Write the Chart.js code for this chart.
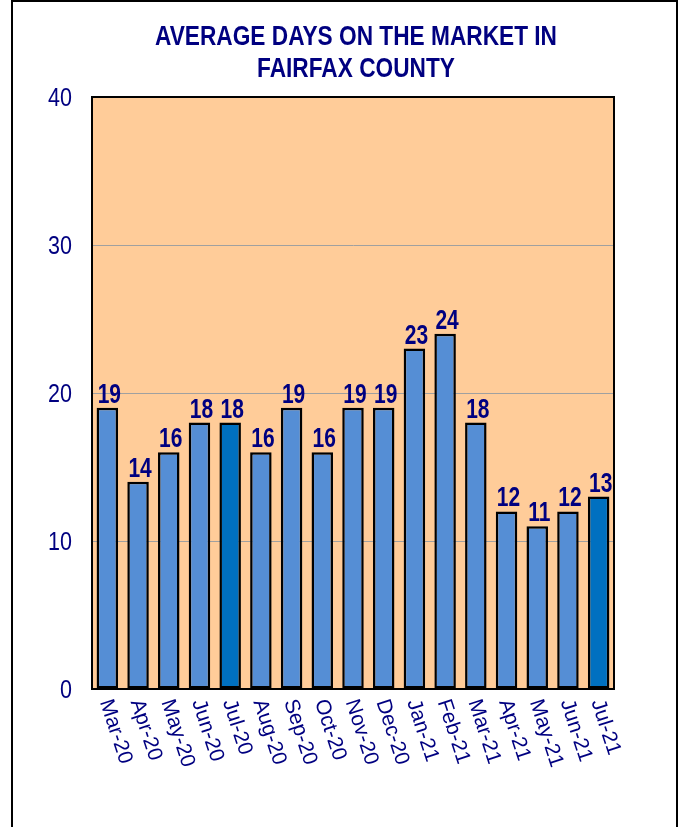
<!DOCTYPE html>
<html>
<head>
<meta charset="utf-8">
<script src="https://cdn.jsdelivr.net/npm/chart.js@4"></script>
<style>
  html, body { margin: 0; padding: 0; background: #fff; overflow: hidden; }
  #frame { position: absolute; left: 11px; top: 0px; width: 663px; height: 900px;
           border: 2px solid #000; border-bottom: none; box-sizing: content-box; }
  #c { position: absolute; left: 0; top: 0; }
</style>
</head>
<body>
<div id="frame"></div>
<canvas id="c" width="680" height="827"></canvas>
<script>
const categories = ["Mar-20","Apr-20","May-20","Jun-20","Jul-20","Aug-20","Sep-20","Oct-20","Nov-20","Dec-20","Jan-21","Feb-21","Mar-21","Apr-21","May-21","Jun-21","Jul-21"];
const daysOnMarket = [19,14,16,18,18,16,19,16,19,19,23,24,18,12,11,12,13];
const highlighted = ["Jul-20","Jul-21"];
const yTicks = [0,10,20,30,40];
const titleLines = ["AVERAGE DAYS ON THE MARKET IN","FAIRFAX COUNTY"];

const NAVY = "#000080";
const FONT = "'Liberation Sans', Arial, sans-serif";

const barColors = categories.map(c => highlighted.includes(c) ? "#0070C0" : "#558ED5");

// draw text horizontally condensed (the original uses a narrow typeface)
function narrowText(ctx, text, x, y, sx, align, baseline) {
  ctx.save();
  ctx.translate(x, y);
  ctx.scale(sx, 1);
  ctx.textAlign = align;
  ctx.textBaseline = baseline;
  ctx.fillText(text, 0, 0);
  ctx.restore();
}

const framePlugin = {
  id: "framePlugin",
  beforeDraw(chart) {
    const {ctx, chartArea: a} = chart;
    ctx.save();
    ctx.fillStyle = "#FFCC99";
    ctx.fillRect(a.left, a.top, a.right - a.left, a.bottom - a.top);
    ctx.restore();
  },
  afterDatasetsDraw(chart) {
    const {ctx} = chart;
    const meta = chart.getDatasetMeta(0);
    ctx.save();
    ctx.fillStyle = NAVY;
    ctx.font = "bold 28px " + FONT;
    meta.data.forEach((bar, i) => {
      narrowText(ctx, String(daysOnMarket[i]), bar.x + 2, bar.y - 5, 0.75, "center", "alphabetic");
    });
    ctx.restore();
  },
  afterDraw(chart) {
    const {ctx, chartArea: a} = chart;
    ctx.save();
    ctx.strokeStyle = "#000";
    ctx.lineWidth = 2;
    ctx.strokeRect(a.left, a.top, a.right - a.left, a.bottom - a.top);

    ctx.fillStyle = NAVY;
    // title
    ctx.font = "bold 27px " + FONT;
    const cx = (a.left + a.right) / 2 + 3;
    titleLines.forEach((t, i) => {
      narrowText(ctx, t, cx, 45 + i * 32, 0.84, "center", "alphabetic");
    });

    // y tick labels
    const ys = chart.scales.y;
    ctx.font = "25px " + FONT;
    yTicks.forEach(v => {
      narrowText(ctx, String(v), a.left - 20, ys.getPixelForValue(v) + 9, 0.86, "right", "alphabetic");
    });

    // rotated category labels
    const xs = chart.scales.x;
    ctx.font = "21px " + FONT;
    ctx.textAlign = "left";
    ctx.textBaseline = "middle";
    categories.forEach((lab, i) => {
      const x = xs.getPixelForTick(i);
      ctx.save();
      ctx.translate(x - 2, a.bottom + 11);
      ctx.rotate(72 * Math.PI / 180);
      ctx.fillText(lab, 0, 0);
      ctx.restore();
    });
    ctx.restore();
  }
};

new Chart(document.getElementById("c"), {
  type: "bar",
  data: {
    labels: categories,
    datasets: [{
      data: daysOnMarket,
      backgroundColor: barColors,
      borderColor: "#000",
      borderWidth: 2.5,
      borderSkipped: false,
      barPercentage: 0.70,
      categoryPercentage: 1.0
    }]
  },
  options: {
    responsive: false,
    animation: false,
    devicePixelRatio: 1,
    layout: { padding: { left: 0, right: 66, top: 97, bottom: 0 } },
    plugins: {
      legend: { display: false },
      tooltip: { enabled: false },
      title: { display: false }
    },
    scales: {
      x: {
        grid: { display: false, drawTicks: false },
        border: { display: true, color: "#000", width: 2 },
        ticks: { display: false },
        afterFit(s) { s.height = 138; }
      },
      y: {
        min: 0,
        max: 40,
        afterBuildTicks(s) { s.ticks = yTicks.map(v => ({ value: v })); },
        grid: { color: "#a0a0a0", lineWidth: 1, drawTicks: false },
        border: { display: true, color: "#000", width: 2 },
        ticks: { display: false },
        afterFit(s) { s.width = 92; }
      }
    }
  },
  plugins: [framePlugin]
});
</script>
</body>
</html>
